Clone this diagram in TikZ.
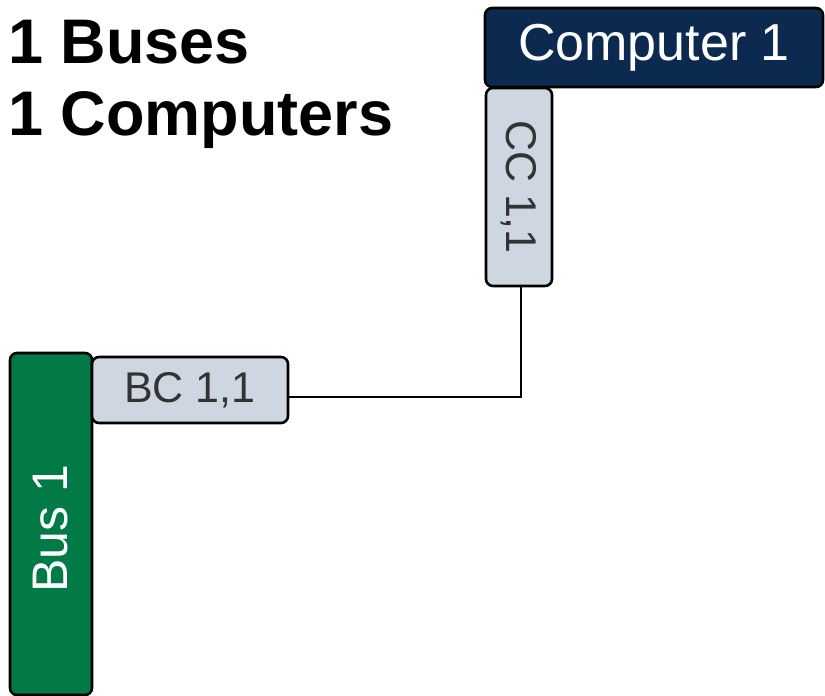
\documentclass[tikz,border=0pt]{standalone}
\usepackage{fontspec}
\setmainfont{Liberation Sans}
\definecolor{navy}{HTML}{0C2A50}
\definecolor{busgreen}{HTML}{017A46}
\definecolor{connfill}{HTML}{CED6E2}
\definecolor{conntext}{HTML}{333333}
\begin{document}
\begin{tikzpicture}[x=1pt,y=-1pt,
  box/.style={draw=black,line width=2.6pt,rounded corners=7pt,inner sep=0pt,anchor=center},
  compbox/.style={box,fill=navy,text=white,font=\fontsize{52}{52}\selectfont},
  busbox/.style={box,fill=busgreen,text=white,font=\fontsize{50}{50}\selectfont},
  connbox/.style={box,fill=connfill,text=conntext,font=\fontsize{43}{43}\selectfont},
  title/.style={anchor=base west,inner sep=0pt,font=\fontsize{63}{63}\selectfont\bfseries},
  wire/.style={draw=black,line width=2pt}]
\useasboundingbox (0,0) rectangle (825,696);
\node[title] (t1) at (8,63) {1 Buses};
\node[title] (t2) at (8,135) {1 Computers};
\node[compbox,minimum width=338pt,minimum height=79pt] (C1) at (654,47.5) {Computer 1};
\node[busbox,minimum width=82pt,minimum height=342pt] (B1) at (51,524) {};
\node[rotate=90,text=white,font=\fontsize{50}{50}\selectfont,inner sep=0pt] (B1t) at (51,529) {Bus 1};
\node[connbox,minimum width=66pt,minimum height=198pt] (CC) at (519,187) {};
\node[rotate=-90,text=conntext,font=\fontsize{43}{43}\selectfont,inner sep=0pt] (CCt) at (CC.center) {CC 1,1};
\node[connbox,minimum width=196pt,minimum height=66pt] (BC) at (190,390) {BC 1,1};
\coordinate (j) at (521,397);
\draw[wire] (BC.east |- j) -- (j) -- (j |- CC.south);
\end{tikzpicture}
\end{document}
